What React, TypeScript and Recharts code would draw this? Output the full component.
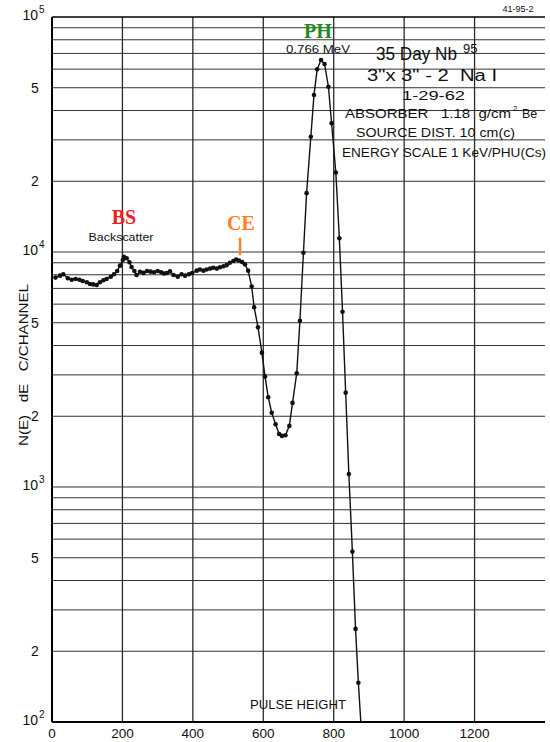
import React from 'react';
import { LineChart, Line, XAxis, YAxis, ReferenceLine } from 'recharts';

// pulse height channel and counts per channel
const channels = [
  10, 23, 32, 45, 56, 67, 78, 87, 99, 108, 117, 127, 136, 146, 155, 167, 176, 185, 193, 201,
  204, 212, 220, 226, 234, 240, 250, 260, 270, 280, 290, 300, 310, 318, 326, 335, 345, 357, 368, 378,
  389, 398, 411, 420, 430, 439, 449, 458, 468, 477, 487, 496, 505, 515, 523, 531, 540, 548, 557, 567,
  574, 585, 596, 605, 614, 624, 635, 645, 653, 663, 674, 683, 695, 704, 714, 723, 735, 744, 753, 764,
  774, 785, 794, 806, 816, 825, 834, 843, 853, 862, 870, 877,
];
const counts = [
  7780, 7930, 8040, 7730, 7620, 7680, 7620, 7530, 7430, 7310, 7280, 7240, 7430, 7580, 7680, 7850, 8040, 8300, 8750, 9250,
  9550, 9400, 9050, 8630, 8300, 7980, 8240, 8150, 8300, 8250, 8200, 8300, 8200, 8100, 8140, 8270, 7980, 7850, 8040, 7930,
  8040, 8140, 8330, 8420, 8330, 8420, 8500, 8570, 8500, 8610, 8700, 8790, 9000, 9160, 9290, 9200, 9060, 8860, 8330, 7130,
  5820, 4780, 3730, 2950, 2410, 2070, 1850, 1680, 1650, 1660, 1820, 2280, 3050, 5090, 9930, 17800, 30950, 46600, 59900, 65600,
  63100, 50500, 35300, 21800, 11440, 5570, 2520, 1135, 531, 249, 147, 100,
];

const xTicks = [0, 200, 400, 600, 800, 1000, 1200];
const yTicks = [100, 200, 500, 1000, 2000, 5000, 10000, 20000, 50000, 100000];
const xGrid = [200, 400, 600, 800, 1000, 1200];
const yGrid = [
  200, 300, 400, 500, 600, 700, 800, 900, 1000,
  2000, 3000, 4000, 5000, 6000, 7000, 8000, 9000, 10000,
  20000, 30000, 40000, 50000, 60000, 70000, 80000, 90000,
];

const data = channels.map((ch, i) => ({ ch, n: counts[i] }));

const FONT = '"Liberation Sans", Arial, sans-serif';
const SERIF = '"Liberation Serif", "DejaVu Serif", serif';

const Dot = (props: any) => {
  const { cx, cy, index } = props;
  // last entry only carries the line down to the axis
  if (index === channels.length - 1) return <g key={index} />;
  return <circle key={index} cx={cx} cy={cy} r={2.3} fill="#111" />;
};

const YTick = (props: any) => {
  const { y, payload } = props;
  const v = payload.value;
  const exp = Math.round(Math.log10(v));
  if (Math.pow(10, exp) === v) {
    return (
      <g fontFamily={FONT} fill="#111">
        <text x={38} y={y + 3} textAnchor="end" fontSize={14}>10</text>
        <text x={39} y={y - 4} fontSize={10}>{exp}</text>
      </g>
    );
  }
  const lead = Math.round(v / Math.pow(10, Math.floor(Math.log10(v))));
  return (
    <text x={35} y={y + 5} textAnchor="middle" fontSize={14} fontFamily={FONT} fill="#111">
      {lead}
    </text>
  );
};

const XTick = (props: any) => {
  const { x, payload } = props;
  return (
    <text x={x} y={738} textAnchor="middle" fontSize={13.5} fontFamily={FONT} fill="#111">
      {payload.value}
    </text>
  );
};

const Notes = () => (
  <svg width={550} height={742} style={{ position: 'absolute', left: 0, top: 0, pointerEvents: 'none' }}>
    <g fontFamily={FONT} fill="#111">
      <text x={518} y={12} fontSize={9} textAnchor="middle">41-95-2</text>
      <text x={318} y={53} fontSize={11} textAnchor="middle" textLength={64} lengthAdjust="spacingAndGlyphs">0.766 MeV</text>
      <text x={376} y={60} fontSize={18} textLength={81} lengthAdjust="spacingAndGlyphs">35 Day Nb</text>
      <text x={463} y={53} fontSize={13}>95</text>
      <text x={367} y={81} fontSize={16} textLength={130} lengthAdjust="spacingAndGlyphs" style={{ whiteSpace: 'pre' }}>3"x 3" - 2  Na I</text>
      <text x={402} y={100} fontSize={13} textLength={63} lengthAdjust="spacingAndGlyphs">1-29-62</text>
      <text x={345} y={118} fontSize={12.5} textLength={166} lengthAdjust="spacingAndGlyphs" style={{ whiteSpace: 'pre' }}>ABSORBER   1.18  g/cm</text>
      <text x={513} y={111} fontSize={8}>2</text>
      <text x={522} y={118} fontSize={12.5}>Be</text>
      <text x={356} y={137} fontSize={12.5} textLength={159} lengthAdjust="spacingAndGlyphs">SOURCE DIST. 10 cm(c)</text>
      <text x={342} y={157} fontSize={12.5} textLength={204} lengthAdjust="spacingAndGlyphs">ENERGY SCALE 1 KeV/PHU(Cs)</text>
      <text x={121} y={241} fontSize={11.5} textAnchor="middle" textLength={65} lengthAdjust="spacingAndGlyphs">Backscatter</text>
      <text x={250} y={709} fontSize={12.5} textLength={96} lengthAdjust="spacingAndGlyphs">PULSE HEIGHT</text>
      <text
        x={28}
        y={365}
        fontSize={13}
        textAnchor="middle"
        transform="rotate(-90 28 365)"
        textLength={162}
        lengthAdjust="spacingAndGlyphs"
        style={{ whiteSpace: 'pre' }}
      >
        N(E)   dE   C/CHANNEL
      </text>
    </g>
    <g fontFamily={SERIF} fontWeight="bold" fontSize={20} textAnchor="middle">
      <text x={318} y={38} fill="#1e8c1e">PH</text>
      <text x={124} y={224} fill="#ee1c24">BS</text>
      <text x={241} y={230} fill="#ff7f27">CE</text>
    </g>
  </svg>
);

export default function App() {
  return (
    <div style={{ position: 'absolute', left: 0, top: 0, width: 550, height: 742, background: '#fff' }}>
      <LineChart width={550} height={742} data={data} margin={{ top: 17, right: 5, bottom: 0, left: 0 }}>
        <XAxis
          dataKey="ch"
          type="number"
          domain={[0, 1400]}
          ticks={xTicks}
          height={20}
          tickLine={false}
          axisLine={{ stroke: '#000', strokeWidth: 2 }}
          tick={<XTick />}
          allowDataOverflow
        />
        <YAxis
          dataKey="n"
          type="number"
          scale="log"
          domain={[100, 100000]}
          ticks={yTicks}
          width={52}
          tickLine={false}
          axisLine={{ stroke: '#000', strokeWidth: 2 }}
          tick={<YTick />}
          allowDataOverflow
        />
        {yGrid.map((v) => (
          <ReferenceLine key={'h' + v} y={v} stroke="#333" strokeWidth={1} />
        ))}
        {xGrid.map((v) => (
          <ReferenceLine key={'v' + v} x={v} stroke="#2a2a2a" strokeWidth={1.3} />
        ))}
        <ReferenceLine y={100000} stroke="#000" strokeWidth={1.6} />
        <ReferenceLine
          segment={[{ x: 534, y: 11500 }, { x: 534, y: 9700 }]}
          stroke="#ff7f27"
          strokeWidth={2.5}
          ifOverflow="visible"
        />
        <Line
          type="linear"
          dataKey="n"
          stroke="#111"
          strokeWidth={1.4}
          dot={<Dot />}
          isAnimationActive={false}
        />
      </LineChart>
      <Notes />
    </div>
  );
}
